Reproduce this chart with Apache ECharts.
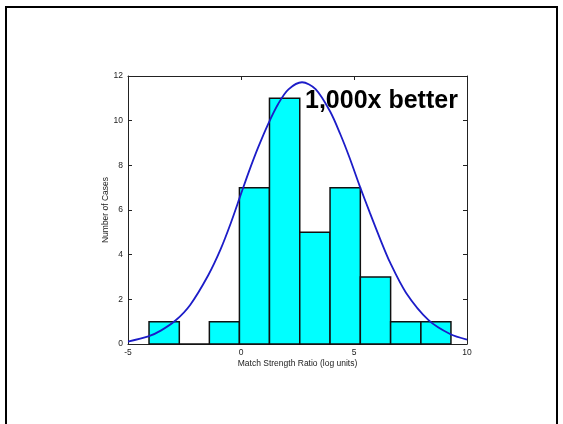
<!DOCTYPE html>
<html><head><meta charset="utf-8">
<script src="https://cdn.jsdelivr.net/npm/echarts@6/dist/echarts.min.js"></script>
<style>html,body{margin:0;padding:0;background:#fff}#c{width:563px;height:424px}</style>
</head><body><div id="c"></div>
<script>
// Histogram bin edges (log units) and counts
const binEdges = [-4.07, -2.73, -1.40, -0.07, 1.26, 2.60, 3.94, 5.28, 6.62, 7.96, 9.29];
const binCounts = [1, 0, 1, 7, 11, 5, 7, 3, 1, 1];
// Fitted curve
const curveX = [-5.0, -4.1, -3.55, -2.9, -2.25, -1.45, -0.9, -0.45, 0.0, 0.35, 0.75, 1.2, 1.65, 2.1, 2.7, 3.3, 3.95, 4.4, 4.8, 5.25, 5.7, 6.15, 6.6, 7.3, 8.3, 9.25, 10.0];
const curveY = [0.11, 0.34, 0.60, 1.05, 1.75, 3.08, 4.25, 5.42, 6.72, 7.72, 8.78, 9.85, 10.76, 11.40, 11.72, 11.41, 10.40, 9.38, 8.35, 7.08, 5.88, 4.72, 3.64, 2.30, 1.07, 0.45, 0.20];
const xLabel = 'Match Strength Ratio (log units)';
const yLabel = 'Number of Cases';
const annotation = '1,000x better';

const barData = binCounts.map((c, i) => [binEdges[i], binEdges[i + 1], c]);
const lineData = curveX.map((x, i) => [x, curveY[i]]);

const chart = echarts.init(document.getElementById('c'), null, {renderer: 'canvas'});
const font = '"Liberation Sans", Arial, sans-serif';
const lblStyle = {color: '#222', fontSize: 8.5, fontFamily: font};
const axisCommon = {
  axisLine: {show: true, onZero: false, lineStyle: {color: '#222', width: 1}},
  axisTick: {show: true, inside: true, length: 4, lineStyle: {color: '#222'}},
  splitLine: {show: false}
};
chart.setOption({
  animation: false,
  backgroundColor: '#fff',
  grid: {left: 128, right: 96, top: 76, bottom: 80, containLabel: false},
  xAxis: [
    Object.assign({type: 'value', min: -5, max: 10, interval: 5, position: 'bottom',
      axisLabel: Object.assign({margin: 4}, lblStyle),
      name: xLabel, nameLocation: 'middle', nameGap: 15, nameMoveOverlap: false,
      nameTextStyle: {color: '#222', fontSize: 8.5, fontFamily: font}}, axisCommon),
    Object.assign({type: 'value', min: -5, max: 10, interval: 5, position: 'top',
      axisLabel: {show: false}}, axisCommon)
  ],
  yAxis: [
    Object.assign({type: 'value', min: 0, max: 12, interval: 2, position: 'left',
      axisLabel: Object.assign({margin: 5}, lblStyle),
      name: yLabel, nameLocation: 'middle', nameGap: 18, nameMoveOverlap: false,
      nameTextStyle: {color: '#222', fontSize: 8.5, fontFamily: font}}, axisCommon),
    Object.assign({type: 'value', min: 0, max: 12, interval: 2, position: 'right',
      axisLabel: {show: false}}, axisCommon)
  ],
  series: [
    {
      type: 'custom', xAxisIndex: 0, yAxisIndex: 0,
      data: barData,
      encode: {x: [0, 1], y: 2},
      renderItem: function (params, api) {
        const p0 = api.coord([api.value(0), api.value(2)]);
        const p1 = api.coord([api.value(1), 0]);
        return {type: 'rect',
          shape: {x: p0[0], y: p0[1], width: p1[0] - p0[0], height: p1[1] - p0[1]},
          style: {fill: '#00ffff', stroke: '#111', lineWidth: 1.5}};
      },
      z: 2
    },
    {
      type: 'line', xAxisIndex: 0, yAxisIndex: 0,
      data: lineData, smooth: 0.3, symbol: 'none',
      lineStyle: {color: '#1c1cc8', width: 1.8},
      z: 3
    }
  ],
  graphic: [
    {type: 'polyline', silent: true, z: 10,
      shape: {points: [[6, 430], [6, 7], [557, 7], [557, 430]]},
      style: {stroke: '#000', lineWidth: 2, fill: null}},
    {type: 'text', left: 305, top: 89, z: 10,
      style: {text: annotation, font: 'bold 25px ' + font, fill: '#000'}}
  ]
});
</script>
</body></html>
